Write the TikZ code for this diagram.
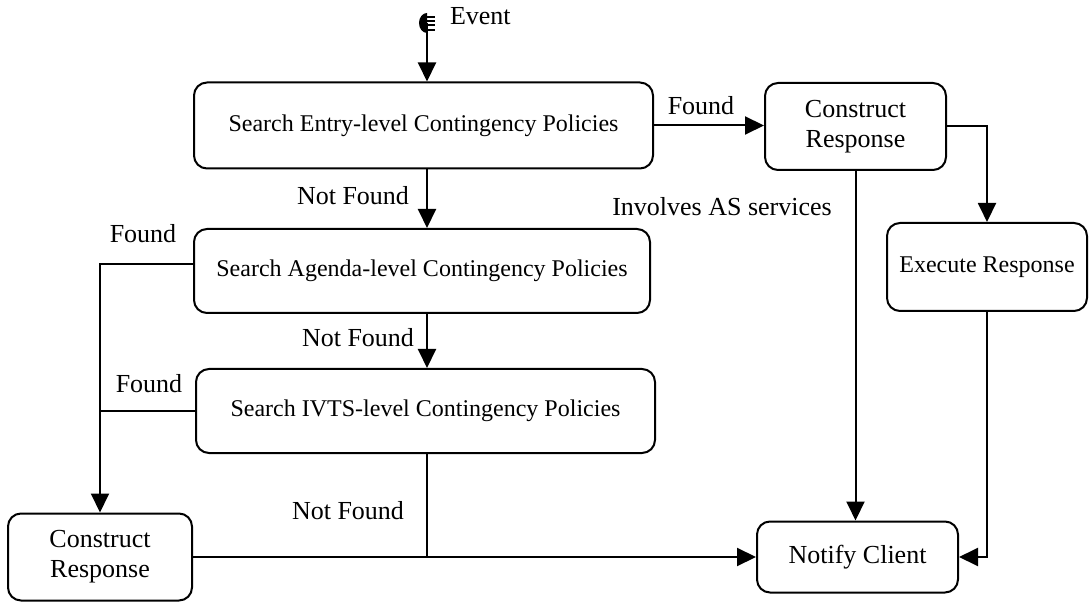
\documentclass[tikz,border=0pt]{standalone}
\usepackage{fontspec}
\setmainfont{Liberation Serif}
\usetikzlibrary{arrows.meta,positioning}

\begin{document}
\begin{tikzpicture}[x=0.5pt,y=-0.5pt,line width=1pt,
    font=\fontsize{13}{15}\selectfont,
    state/.style={draw,rounded corners=6.5pt,align=center,inner sep=0pt},
    search/.style={state,font=\fontsize{12}{14}\selectfont},
    flow/.style={-{Triangle[length=9.5pt,width=9pt]}}]
    \useasboundingbox (0,0) rectangle (1090,603);
    % event symbol
    \coordinate (ev) at (427,23);
    \fill (ev) ++(0,-10) arc[start angle=90,end angle=270,x radius=4pt,y radius=5pt] -- cycle;
    \foreach \y in {17,21,25,30} \draw[line width=0.6pt] (427,\y) -- (435,\y);
    \node[anchor=base west,inner sep=0pt] (evtext) at (449,25) {Event};
    % states
    \node[search,minimum width=229.5pt,minimum height=43pt] (entry) at (423.5,125.5) {Search Entry-level Contingency Policies};
    \node[search,minimum width=228pt,minimum height=42pt] (agenda) at (422,271) {Search Agenda-level Contingency Policies};
    \node[search,minimum width=229.5pt,minimum height=42pt] (ivts) at (425.5,411) {Search IVTS-level Contingency Policies};
    \node[state,minimum width=90.5pt,minimum height=43.5pt] (cons1) at (855.5,126.5) {Construct\\Response};
    \node[search,minimum width=100pt,minimum height=44pt] (exec) at (987,267) {Execute Response};
    \node[state,minimum width=100.5pt,minimum height=35.5pt] (notify) at (857.5,557) {Notify Client};
    \node[state,minimum width=92pt,minimum height=43.5pt] (cons2) at (100,557) {Construct\\Response};
    % labels
    \node[anchor=base,inner sep=0pt] (lfound) at (701,115) {Found};
    \node[anchor=base,inner sep=0pt] (lnot1) at (353,205) {Not Found};
    \node[anchor=base,inner sep=0pt] (lfound2) at (143,243) {Found};
    \node[anchor=base,inner sep=0pt] (lnot2) at (358,347) {Not Found};
    \node[anchor=base,inner sep=0pt] (lfound3) at (149,393) {Found};
    \node[anchor=base,inner sep=0pt] (lnot3) at (348,519) {Not Found};
    \node[anchor=base,inner sep=0pt] (las) at (722,216) {Involves AS services};
    % connectors
    \draw[flow] (ev) -- (entry.north -| ev);
    \draw[flow] (entry.east) -- (entry.east -| cons1.west);
    \draw[flow] (cons1.east) -| (exec.north);
    \draw[flow] (cons1.south) -- (cons1.south |- notify.north);
    \draw[flow] (exec.south) |- (notify.east);
    \draw[flow] (entry.south -| ev) -- (agenda.north -| ev);
    \draw[flow] (agenda.south -| ev) -- (ivts.north -| ev);
    \draw[flow] ([yshift=3.5pt]agenda.west) -| (cons2.north);
    \draw (ivts.west) -- (ivts.west -| cons2.north);
    \draw[flow] (cons2.east) -- (notify.west);
    \coordinate (join) at (ev |- notify.west);
    \draw (ivts.south -| ev) -- (join);
\end{tikzpicture}
\end{document}
